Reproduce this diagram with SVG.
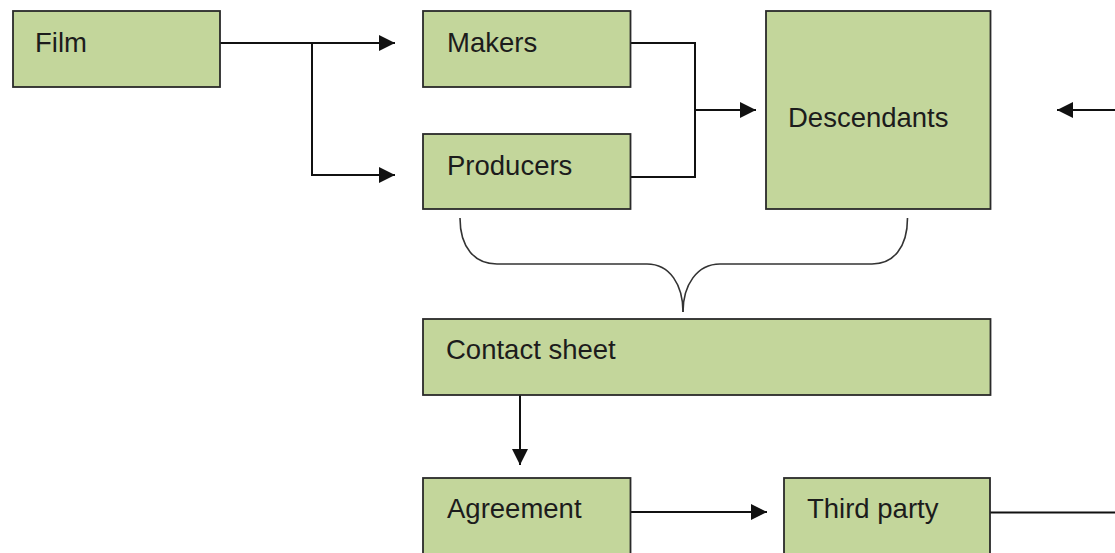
<svg xmlns="http://www.w3.org/2000/svg" width="1115" height="553" viewBox="0 0 1115 553">
<style>
.box{fill:#c3d69b;stroke:#2a2a2a;stroke-width:1.8}
.lbl{font-family:"Liberation Sans",Arial,sans-serif;font-size:27.5px;fill:#1c1c1c}
.ln{fill:none;stroke:#111;stroke-width:2}
.br{fill:none;stroke:#333;stroke-width:1.6}
</style>
<defs>
<marker id="ah" markerUnits="userSpaceOnUse" markerWidth="17" markerHeight="16" refX="16" refY="8" orient="auto">
<path d="M0,0 L16,8 L0,16 Z" fill="#111"/>
</marker>
</defs>
<rect width="1115" height="553" fill="#fff"/>
<g id="connectors">
<path class="ln" d="M220,43 H395" marker-end="url(#ah)"/>
<path class="ln" d="M312,43 V175 H395" marker-end="url(#ah)"/>
<path class="ln" d="M631,43 H695 V177 H631"/>
<path class="ln" d="M695,110 H756" marker-end="url(#ah)"/>
<path class="ln" d="M1115,110 H1057" marker-end="url(#ah)"/>
<path class="br" d="M460,218 C460,248 475,264 497,264 L647,264 C670,264 683,285 683,312"/>
<path class="br" d="M907.5,218 C907.5,248 893,264 872,264 L720,264 C697,264 683,285 683,312"/>
<path class="ln" d="M520,395 V465" marker-end="url(#ah)"/>
<path class="ln" d="M631,512 H767" marker-end="url(#ah)"/>
<path class="ln" d="M990,512.5 H1115"/>
</g>
<g id="film"><rect class="box" x="13" y="11" width="207" height="76"/><text class="lbl" x="35" y="52">Film</text></g>
<g id="makers"><rect class="box" x="423" y="11" width="207.5" height="76"/><text class="lbl" x="447" y="52">Makers</text></g>
<g id="producers"><rect class="box" x="423" y="134" width="207.5" height="75"/><text class="lbl" x="447" y="175">Producers</text></g>
<g id="descendants"><rect class="box" x="766" y="11" width="224.5" height="198"/><text class="lbl" x="788" y="127">Descendants</text></g>
<g id="contact-sheet"><rect class="box" x="423" y="319" width="567.5" height="76"/><text class="lbl" x="446" y="359">Contact sheet</text></g>
<g id="agreement"><rect class="box" x="423" y="478" width="207.5" height="80"/><text class="lbl" x="447" y="518">Agreement</text></g>
<g id="third-party"><rect class="box" x="784" y="478" width="206" height="80"/><text class="lbl" x="807" y="518">Third party</text></g>
</svg>
